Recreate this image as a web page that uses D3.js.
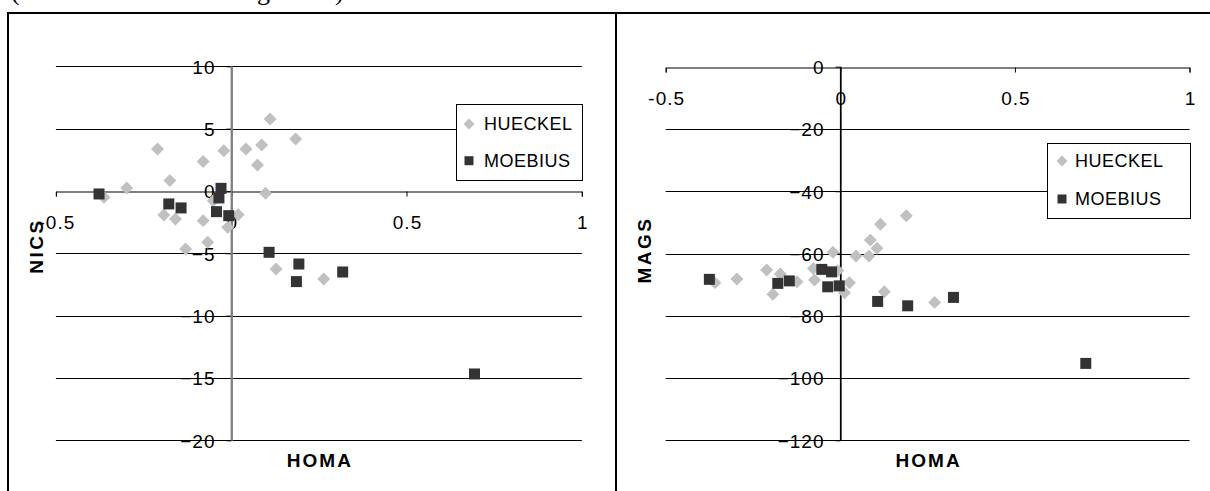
<!DOCTYPE html>
<html>
<head>
<meta charset="utf-8">
<script src="https://cdn.jsdelivr.net/npm/d3@7"></script>
<style>
  html, body { margin: 0; padding: 0; background: #fff; }
  svg { display: block; }
  text { font-family: "Liberation Sans", Arial, sans-serif; fill: #000; }
</style>
</head>
<body>
<svg id="chart" width="1210" height="491"></svg>
<script>
// ---------- DATA ----------
const seriesNames = ["HUECKEL", "MOEBIUS"];
const xTicks = [-0.5, 0, 0.5, 1];
const nicsTicks = [-20, -15, -10, -5, 0, 5, 10];
const magsTicks = [-120, -100, -80, -60, -40, -20, 0];

// Left chart: HOMA vs NICS
const nicsHueckelHoma = [-0.363, -0.298, -0.210, -0.192, -0.175, -0.159, -0.130, -0.080, -0.080, -0.067, -0.051, -0.021, -0.010, 0.020, 0.042, 0.075, 0.087, 0.098, 0.111, 0.128, 0.184, 0.264];
const nicsHueckel     = [-0.51, 0.24, 3.37, -1.93, 0.83, -2.25, -4.65, 2.37, -2.38, -4.12, -0.78, 3.23, -2.92, -1.90, 3.37, 2.09, 3.69, -0.19, 5.77, -6.26, 4.17, -7.06];
const nicsMoebiusHoma = [-0.377, -0.178, -0.143, -0.042, -0.029, -0.035, -0.007, 0.108, 0.186, 0.193, 0.318, 0.694];
const nicsMoebius     = [-0.24, -1.04, -1.36, -1.66, 0.21, -0.56, -1.98, -4.92, -7.27, -5.86, -6.50, -14.68];

// Right chart: HOMA vs MAGS
const magsHueckelHoma = [-0.359, -0.296, -0.211, -0.193, -0.172, -0.124, -0.077, -0.074, -0.021, -0.007, 0.012, 0.026, 0.045, 0.082, 0.086, 0.105, 0.115, 0.126, 0.189, 0.270];
const magsHueckel     = [-69.4, -68.2, -65.3, -73.1, -66.6, -69.1, -64.8, -68.5, -59.6, -65.5, -72.6, -69.4, -60.8, -60.8, -55.7, -58.3, -50.6, -72.3, -47.9, -75.7];
const magsMoebiusHoma = [-0.375, -0.179, -0.146, -0.053, -0.025, -0.036, -0.003, 0.107, 0.193, 0.324, 0.703];
const magsMoebius     = [-68.3, -69.6, -68.8, -65.1, -65.9, -70.7, -70.4, -75.4, -76.8, -74.1, -95.3];

// ---------- DRAW ----------
const svg = d3.select("#chart");
const FONT_TICK = 19;
const HUECKEL_COLOR = "#c0c0c0";
const MOEBIUS_COLOR = "#333333";

// Cropped caption text above the frame (only descenders visible, as in the reference)
svg.append("text").attr("x", 11).attr("y", 0)
  .style("font-family", "'Liberation Serif', serif").style("font-size", "26px")
  .text("(");
svg.append("text").attr("x", 225).attr("y", 0)
  .style("font-family", "'Liberation Serif', serif").style("font-size", "26px")
  .style("letter-spacing", "8px")
  .text("figure)");

// Outer frame
const frame = svg.append("g").attr("stroke", "#000").attr("stroke-width", 2).attr("shape-rendering", "crispEdges");
frame.append("line").attr("x1", 7).attr("x2", 1210).attr("y1", 12.5).attr("y2", 12.5);
frame.append("line").attr("x1", 8).attr("x2", 8).attr("y1", 12).attr("y2", 491);
frame.append("line").attr("x1", 616).attr("x2", 616).attr("y1", 12).attr("y2", 491);

const diamond = (area) => d3.symbol(d3.symbolSquare, area)();
const square = (area) => d3.symbol(d3.symbolSquare, area)();

function drawChart(cfg) {
  const x = d3.scaleLinear().domain([-0.5, 1]).range(cfg.xRange);
  const y = d3.scaleLinear().domain(cfg.yDomain).range(cfg.yRange);
  const g = svg.append("g");

  // horizontal gridlines
  g.append("g").selectAll("line").data(cfg.yTicks.filter(v => v !== 0)).join("line")
    .attr("x1", x(-0.5)).attr("x2", x(1))
    .attr("y1", d => Math.round(y(d)) + 0.5).attr("y2", d => Math.round(y(d)) + 0.5)
    .attr("stroke", "#000").attr("stroke-width", 1);

  // y axis (at HOMA = 0)
  const yAxis = d3.axisLeft(y).tickValues(cfg.yTicks).tickSize(5).tickSizeOuter(0).tickPadding(12)
    .tickFormat(d3.format("d"));
  const ya = g.append("g").attr("transform", `translate(${Math.round(x(0)) + 0.5},0)`).call(yAxis);
  ya.select(".domain").attr("stroke", cfg.yAxisColor).attr("stroke-width", cfg.yAxisWidth);
  ya.selectAll(".tick line").attr("stroke", "#000");
  ya.selectAll(".tick text")
    .style("font-size", FONT_TICK + "px").style("letter-spacing", "1px")
    .style("font-family", "'Liberation Sans', Arial, sans-serif")
    .attr("dy", "0.36em").attr("x", -16);

  // x axis (at value 0)
  const xAxis = d3.axisBottom(x).tickValues(xTicks).tickSize(5).tickSizeOuter(5)
    .tickFormat(d => d === 0 ? "0" : String(d));
  const xa = g.append("g").attr("transform", `translate(0,${Math.round(y(0)) + 0.5})`).call(xAxis);
  xa.select(".domain").attr("stroke", "#000").attr("stroke-width", 1);
  xa.selectAll(".tick line").attr("stroke", "#000");
  xa.selectAll(".tick text")
    .style("font-size", FONT_TICK + "px").style("letter-spacing", "1px")
    .style("font-family", "'Liberation Sans', Arial, sans-serif")
    .attr("y", 30.5).attr("dy", "0.36em").attr("dx", "0.5px");

  // redraw y-axis line on top of x axis
  g.append("line")
    .attr("x1", Math.round(x(0)) + 0.5).attr("x2", Math.round(x(0)) + 0.5)
    .attr("y1", y(cfg.yDomain[1])).attr("y2", y(cfg.yDomain[0]))
    .attr("stroke", cfg.yAxisColor).attr("stroke-width", cfg.yAxisWidth);

  // series: HUECKEL diamonds
  g.append("g").selectAll("path").data(d3.zip(cfg.hX, cfg.hY)).join("path")
    .attr("d", diamond(84))
    .attr("transform", d => `translate(${x(d[0])},${y(d[1])}) rotate(45)`)
    .attr("fill", HUECKEL_COLOR);
  // series: MOEBIUS squares
  g.append("g").selectAll("path").data(d3.zip(cfg.mX, cfg.mY)).join("path")
    .attr("d", square(121))
    .attr("transform", d => `translate(${x(d[0])},${y(d[1])})`)
    .attr("fill", MOEBIUS_COLOR);

  // axis titles
  g.append("text")
    .attr("x", (x(-0.5) + x(1)) / 2 + 1).attr("y", 460).attr("dy", "0.36em")
    .attr("text-anchor", "middle")
    .style("font-weight", "bold").style("font-size", "19px").style("letter-spacing", "2px")
    .text("HOMA");
  g.append("text")
    .attr("transform", `translate(${cfg.yTitleX},${cfg.yTitleY}) rotate(-90)`)
    .attr("dy", "0.36em").attr("text-anchor", "middle")
    .style("font-weight", "bold").style("font-size", "19px").style("letter-spacing", "2.5px")
    .text(cfg.yTitle);

  // legend
  const L = cfg.legend;
  const lg = g.append("g");
  lg.append("rect").attr("x", L.x + 0.5).attr("y", L.y + 0.5).attr("width", L.w).attr("height", L.h)
    .attr("fill", "#fff").attr("stroke", "#000").attr("stroke-width", 1);
  const rows = [
    { name: seriesNames[0], y: L.row1, path: diamond(61), rot: 45, color: HUECKEL_COLOR },
    { name: seriesNames[1], y: L.row2, path: square(81), rot: 0, color: MOEBIUS_COLOR }
  ];
  rows.forEach(r => {
    lg.append("path").attr("d", r.path)
      .attr("transform", `translate(${L.mx},${r.y}) rotate(${r.rot})`)
      .attr("fill", r.color);
    lg.append("text").attr("x", L.tx).attr("y", r.y).attr("dy", "0.36em")
      .style("font-size", "18px").style("letter-spacing", "0.5px")
      .text(r.name);
  });
}

drawChart({
  xRange: [55.9, 581.8], yDomain: [-20, 10], yRange: [440.3, 66.3], yTicks: nicsTicks,
  yAxisColor: "#808080", yAxisWidth: 1.8,
  hX: nicsHueckelHoma, hY: nicsHueckel, mX: nicsMoebiusHoma, mY: nicsMoebius,
  yTitle: "NICS", yTitleX: 36, yTitleY: 246,
  legend: { x: 456, y: 104, w: 126, h: 76, row1: 124, row2: 160.7, mx: 469, tx: 484 }
});

drawChart({
  xRange: [665.7, 1189.5], yDomain: [-120, 0], yRange: [440.3, 66.7], yTicks: magsTicks,
  yAxisColor: "#000", yAxisWidth: 1.2,
  hX: magsHueckelHoma, hY: magsHueckel, mX: magsMoebiusHoma, mY: magsMoebius,
  yTitle: "MAGS", yTitleX: 644, yTitleY: 250,
  legend: { x: 1047, y: 143, w: 143, h: 75, row1: 161, row2: 199, mx: 1062, tx: 1075 }
});
</script>
</body>
</html>
